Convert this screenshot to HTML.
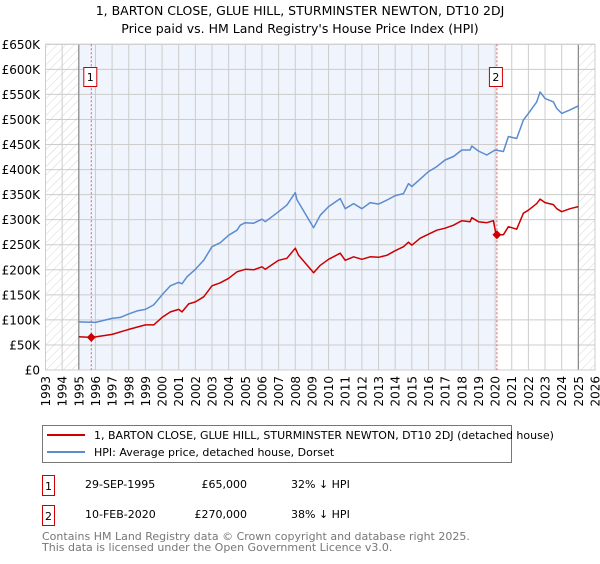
<!DOCTYPE html>
<html><head><meta charset="utf-8"><style>
body{margin:0;background:#fff;font-family:"DejaVu Sans","Liberation Sans",sans-serif}
svg text{font-family:"DejaVu Sans","Liberation Sans",sans-serif}
</style></head><body>
<svg id="c" width="600" height="560" xmlns="http://www.w3.org/2000/svg">
<defs><pattern id="h" width="6" height="6" patternUnits="userSpaceOnUse" patternTransform="rotate(45)"><line x1="0" y1="0" x2="0" y2="6" stroke="#ccc" stroke-width="0.8"/></pattern></defs>
<text x="300" y="15" text-anchor="middle" font-size="12.5">1, BARTON CLOSE, GLUE HILL, STURMINSTER NEWTON, DT10 2DJ</text>
<text x="300" y="33" text-anchor="middle" font-size="12.5">Price paid vs. HM Land Registry's House Price Index (HPI)</text>
<g id="plot"></g>
<g>
<rect x="42.5" y="425.5" width="469" height="37" fill="#fff" stroke="#777"/>
<line x1="47" y1="435" x2="85" y2="435" stroke="#cc0000" stroke-width="2"/>
<text x="94" y="439" font-size="11">1, BARTON CLOSE, GLUE HILL, STURMINSTER NEWTON, DT10 2DJ (detached house)</text>
<line x1="47" y1="452" x2="85" y2="452" stroke="#5b8bd0" stroke-width="2"/>
<text x="94" y="456" font-size="11">HPI: Average price, detached house, Dorset</text>
</g>
<g font-size="11">
<rect x="42.5" y="475.5" width="12" height="20" fill="#fff" stroke="#cc0000"/><text x="48.5" y="490" text-anchor="middle">1</text>
<text x="85" y="488">29-SEP-1995</text><text x="247" y="488" text-anchor="end">£65,000</text><text x="291" y="488">32% ↓ HPI</text>
<rect x="42.5" y="505.5" width="12" height="20" fill="#fff" stroke="#cc0000"/><text x="48.5" y="520" text-anchor="middle">2</text>
<text x="85" y="518">10-FEB-2020</text><text x="247" y="518" text-anchor="end">£270,000</text><text x="291" y="518">38% ↓ HPI</text>
</g>
<text x="42" y="540" font-size="11" fill="#777">Contains HM Land Registry data © Crown copyright and database right 2025.</text>
<text x="42" y="551" font-size="11" fill="#777">This data is licensed under the Open Government Licence v3.0.</text>
</svg>
<script>
const hpiYears=[1995,1996,1997,1997.5,1998,1998.5,1999,1999.5,2000,2000.5,2001,2001.2,2001.5,2002,2002.5,2003,2003.5,2004,2004.5,2004.7,2005,2005.5,2006,2006.2,2007,2007.5,2008,2008.1,2009.1,2009.5,2010,2010.7,2011,2011.5,2012,2012.5,2013,2013.5,2014,2014.5,2014.8,2015,2015.5,2016,2016.5,2017,2017.5,2018,2018.5,2018.6,2019,2019.5,2020,2020.5,2020.8,2021.3,2021.7,2022,2022.5,2022.7,2023,2023.5,2023.7,2024,2024.5,2025];
const hpiValues=[96,95,103,105,112,118,121,130,150,168,175,172,186,201,219,246,254,269,279,289,294,293,301,296,316,329,354,340,284,309,326,342,322,332,322,334,331,339,348,352,372,366,381,396,406,419,426,439,439,447,437,429,439,436,466,462,499,512,535,555,542,535,522,512,519,527];
const priceYears=[1995,1995.75,1996,1997,1998,1999,1999.5,2000,2000.5,2001,2001.2,2001.6,2002,2002.5,2003,2003.5,2004,2004.5,2005,2005.5,2006,2006.2,2007,2007.5,2008,2008.2,2009.1,2009.5,2010,2010.7,2011,2011.5,2012,2012.5,2013,2013.5,2014,2014.5,2014.8,2015,2015.5,2016,2016.5,2017,2017.5,2018,2018.5,2018.6,2019,2019.5,2019.9,2020.05,2020.11,2020.5,2020.8,2021.3,2021.7,2022,2022.5,2022.7,2023,2023.5,2023.7,2024,2024.5,2025];
const priceValues=[66.5,65,66,71,81,90,90,105,116,121,116,132,136,146,168,174,183,196,201,200,206,201,219,223,243,229,194,209,221,233,219,226,221,226,225,229,238,246,255,249,263,271,279,283,289,298,296,304,296,294,298,272,270,270,286,281,313,319,332,341,334,330,322,316,322,326];
const saleYears=[1995.75,2020.11];
const saleValues=[65,270];
const yTicks=[0,50,100,150,200,250,300,350,400,450,500,550,600,650];
const xTicks=[1993,1994,1995,1996,1997,1998,1999,2000,2001,2002,2003,2004,2005,2006,2007,2008,2009,2010,2011,2012,2013,2014,2015,2016,2017,2018,2019,2020,2021,2022,2023,2024,2025,2026];
const L=45.5,R=595,T=44.3,B=370;
const x=y=>L+(y-1993)*(R-L)/33;
const yv=v=>B-v*(B-T)/650;
const NS='http://www.w3.org/2000/svg';
const g=document.getElementById('plot');
function mk(t,a){const e=document.createElementNS(NS,t);for(const k in a)e.setAttribute(k,a[k]);g.appendChild(e);return e;}
let e;
e=mk('rect',{x:L,y:T,width:R-L,height:B-T,fill:'#fff'});


e=mk('rect',{x:x(1995),y:T,width:x(2020.11)-x(1995),height:B-T,fill:'#f0f4fd'});


e=mk('rect',{x:L,y:T,width:x(1995)-L,height:B-T,fill:'url(#h)'});


e=mk('rect',{x:x(2025),y:T,width:R-x(2025),height:B-T,fill:'url(#h)'});


yTicks.forEach(v=>{
 e=mk('line',{x1:L,x2:R,y1:yv(v),y2:yv(v),stroke:'#ccc','stroke-width':1});
 
 
 e=mk('text',{x:40,y:yv(v)+4.5,'text-anchor':'end','font-size':12});
 e.textContent=v===0?'£0':'£'+v+'K';
 
 
});
xTicks.forEach(t=>{
 e=mk('line',{x1:x(t),x2:x(t),y1:T,y2:B,stroke:'#ccc','stroke-width':1});
 
 
 e=mk('text',{x:0,y:0,'font-size':12,'text-anchor':'end',transform:'translate('+(x(t)+4.5)+','+(B+6)+') rotate(-90)'});
 e.textContent=t;
 
 
});
[1995,2025].forEach(t=>{
 e=mk('line',{x1:x(t),x2:x(t),y1:T,y2:B,stroke:'#888','stroke-width':1.2});
 
 
});
e=mk('rect',{x:L,y:T,width:R-L,height:B-T,fill:'none',stroke:'#ccc'});


saleYears.forEach((s,i)=>{
 e=mk('line',{x1:x(s),x2:x(s),y1:T,y2:B,stroke:'#e06060','stroke-width':1,'stroke-dasharray':'2,2'});
 
 
 e=mk('rect',{x:x(s)-7.5,y:67.5,width:13,height:19,fill:'#fff',stroke:'#cc0000'});
 
 
 e=mk('text',{x:x(s)-1,y:81,'text-anchor':'middle','font-size':11});
 e.textContent=String(i+1);
 
 
});
function line(xs,vs,col,name){
 e=mk('polyline',{points:xs.map((t,i)=>x(t).toFixed(1)+','+yv(vs[i]).toFixed(1)).join(' '),fill:'none',stroke:col,'stroke-width':1.5,'stroke-linejoin':'round'});
 
 
}
line(hpiYears,hpiValues,'#5b8bd0','hpi-line');
line(priceYears,priceValues,'#cc0000','price-line');
saleYears.forEach((s,i)=>{
 const cx=x(s),cy=yv(saleValues[i]);
 e=mk('polygon',{points:(cx-4.5)+','+cy+' '+cx+','+(cy-4.5)+' '+(cx+4.5)+','+cy+' '+cx+','+(cy+4.5),fill:'#cc0000'});
 
 
});
</script>
</body></html>
